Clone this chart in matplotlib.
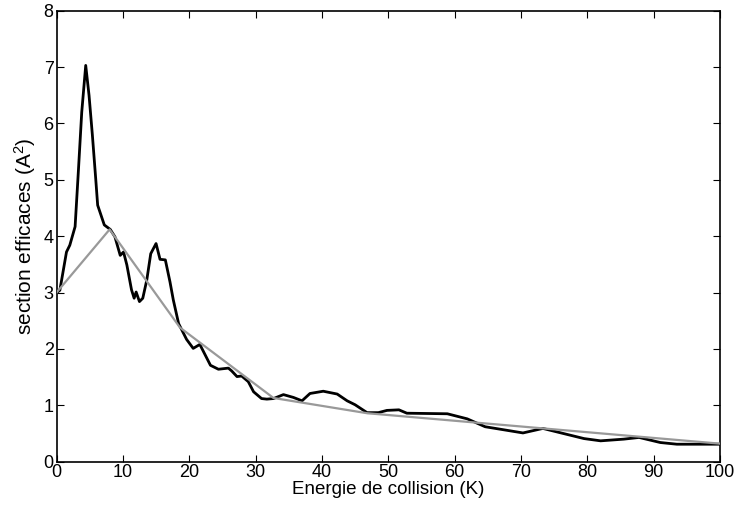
import matplotlib
matplotlib.use("Agg")
import matplotlib.pyplot as plt

plt.rcParams['font.family'] = ['Liberation Sans', 'DejaVu Sans']
plt.rcParams['mathtext.default'] = 'regular'

# Black curve: computed cross section
energy = [0.0, 0.5, 1.5, 2.0, 2.8, 3.3, 3.8, 4.4, 4.9, 5.4, 5.9, 6.2, 7.2, 8.1, 8.8,
          9.6, 10.1, 10.6, 11.3, 11.7, 12.0, 12.5, 13.0, 13.6, 14.2, 15.0, 15.6,
          16.4, 17.1, 17.6, 18.4, 19.6, 20.6, 21.6, 23.2, 24.4, 25.9, 26.4, 27.2,
          27.9, 28.9, 29.7, 30.9, 31.7, 32.7, 34.2, 35.7, 37.0, 38.2, 40.2, 42.3,
          43.8, 45.0, 46.8, 48.5, 49.8, 51.6, 52.8, 58.9, 61.9, 64.6, 70.3, 73.3,
          75.7, 79.5, 82.0, 85.5, 87.8, 91.0, 93.5, 100.0]
sigma = [3.0, 3.04, 3.72, 3.84, 4.17, 5.17, 6.2, 7.03, 6.5, 5.8, 5.03, 4.55, 4.2,
         4.12, 3.99, 3.66, 3.72, 3.49, 3.05, 2.9, 3.01, 2.84, 2.9, 3.22, 3.69, 3.87,
         3.59, 3.58, 3.19, 2.87, 2.45, 2.17, 2.01, 2.08, 1.71, 1.64, 1.66, 1.61,
         1.51, 1.52, 1.42, 1.24, 1.12, 1.11, 1.12, 1.19, 1.14, 1.08, 1.21, 1.25,
         1.2, 1.08, 1.01, 0.87, 0.87, 0.91, 0.92, 0.86, 0.85, 0.76, 0.62, 0.51,
         0.59, 0.52, 0.41, 0.37, 0.40, 0.43, 0.34, 0.31, 0.31]

# Gray curve: piecewise approximation
fit_energy = [0.0, 8.0, 18.6, 32.7, 46.8, 100.0]
fit_sigma = [3.0, 4.12, 2.38, 1.13, 0.86, 0.32]

fig = plt.figure(figsize=(7.36, 5.11), dpi=100)
ax = fig.add_axes([0.0768, 0.0965, 0.9015, 0.8825])

ax.plot(energy, sigma, color='black', linewidth=2.0, zorder=2)
ax.plot(fit_energy, fit_sigma, color='#999999', linewidth=1.6, zorder=3)

ax.set_xlim(0, 100)
ax.set_ylim(0, 8)
ax.set_xticks(range(0, 101, 10))
ax.set_yticks(range(0, 9))
ax.tick_params(direction='in', top=True, right=True, length=5, width=0.8,
               labelsize=13, pad=2)
for s in ax.spines.values():
    s.set_linewidth(1.2)

ax.set_xlabel('Energie de collision (K)', fontsize=13.5, labelpad=0)
ax.set_ylabel('section efficaces (A$^2$)', fontsize=15, labelpad=4)

fig.savefig('out.png', dpi=100)
